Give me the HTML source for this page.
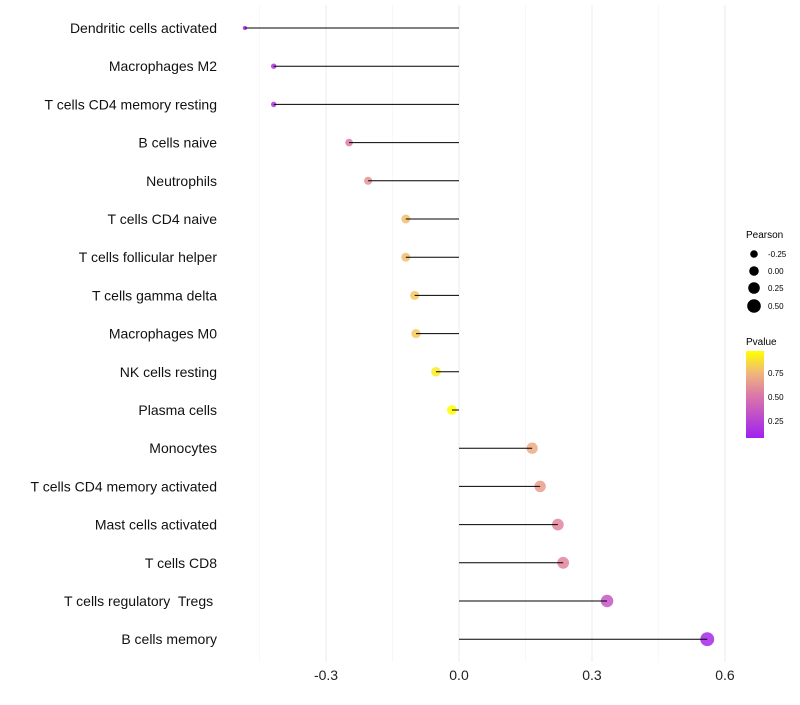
<!DOCTYPE html>
<html><head><meta charset="utf-8"><style>
body{margin:0;background:#fff;font-family:"Liberation Sans",sans-serif}
text{white-space:pre}
</style></head><body>
<svg id="chart" width="800" height="700" xmlns="http://www.w3.org/2000/svg">
<defs><linearGradient id="pg" x1="0" y1="1" x2="0" y2="0">
<stop offset="0" stop-color="#a020f0"/><stop offset="0.5" stop-color="#dc7aa6"/><stop offset="0.75" stop-color="#f0b87a"/><stop offset="1" stop-color="#ffff00"/></linearGradient></defs>
<g id="grid"></g><g id="points"></g><g id="stems"></g><g id="labels"></g>
<g font-size="9" fill="#000">
<text x="746" y="238" font-size="10">Pearson</text>
<circle cx="754" cy="254" r="3.8"/><text x="768" y="257" font-size="8">-0.25</text>
<circle cx="754" cy="271" r="4.8"/><text x="768" y="274" font-size="8">0.00</text>
<circle cx="754" cy="288" r="5.8"/><text x="768" y="291" font-size="8">0.25</text>
<circle cx="754" cy="306" r="6.8"/><text x="768" y="309" font-size="8">0.50</text>
<text x="746" y="345" font-size="10">Pvalue</text>
<rect x="746" y="351" width="18" height="87" fill="url(#pg)"/>
<text x="768" y="376" font-size="8">0.75</text>
<text x="768" y="400" font-size="8">0.50</text>
<text x="768" y="424" font-size="8">0.25</text>
</g>
</svg>
<script>
const categories=["Dendritic cells activated","Macrophages M2","T cells CD4 memory resting","B cells naive","Neutrophils","T cells CD4 naive","T cells follicular helper","T cells gamma delta","Macrophages M0","NK cells resting","Plasma cells","Monocytes","T cells CD4 memory activated","Mast cells activated","T cells CD8","T cells regulatory  Tregs ","B cells memory"];
const pearson=[-0.483,-0.418,-0.418,-0.248,-0.205,-0.12,-0.12,-0.10,-0.097,-0.052,-0.016,0.165,0.183,0.223,0.235,0.334,0.56];
const pvalue=[0.05,0.12,0.12,0.5,0.6,0.77,0.77,0.81,0.81,0.93,1.0,0.7,0.64,0.55,0.55,0.3,0.05];
const xticks=[-0.3,0,0.3,0.6];
const xminor=[-0.45,-0.15,0.15,0.45];
const NS="http://www.w3.org/2000/svg";
const x=v=>459+v*443.3;
const y=i=>28+i*38.2;
const rad=p=>Math.sqrt(Math.max(1,25+42*p));
function lerp(a,b,t){return a.map((v,k)=>Math.round(v+(b[k]-v)*t));}
const stops=[[0,[160,32,240]],[0.5,[220,122,166]],[0.75,[240,184,122]],[1,[255,255,0]]];
function col(p){for(let k=1;k<stops.length;k++){if(p<=stops[k][0]){const t=(p-stops[k-1][0])/(stops[k][0]-stops[k-1][0]);return 'rgb('+lerp(stops[k-1][1],stops[k][1],t).join(',')+')';}}return 'rgb(255,255,0)';}
function mk(tag,attrs,parent){const e=document.createElementNS(NS,tag);for(const k in attrs)e.setAttribute(k,attrs[k]);parent.appendChild(e);return e;}
const grid=document.getElementById('grid'),points=document.getElementById('points'),stems=document.getElementById('stems'),labels=document.getElementById('labels');
xminor.forEach(v=>{const l=mk('line',{x1:x(v),x2:x(v),y1:5,y2:662,stroke:'#f2f2f2','stroke-width':0.6},grid);

});
xticks.forEach(v=>{const l=mk('line',{x1:x(v),x2:x(v),y1:5,y2:662,stroke:'#ebebeb','stroke-width':1},grid);


const t=mk('text',{x:x(v),y:680,'text-anchor':'middle','font-size':14,fill:'#222'},labels);
t.textContent=v===0?'0.0':v.toFixed(1);

});
categories.forEach((c,i)=>{
const t=mk('text',{x:217,y:y(i)+5,'text-anchor':'end','font-size':14,fill:'#111'},labels);
t.textContent=c;


const l=mk('line',{x1:x(0),x2:x(pearson[i]),y1:y(i),y2:y(i),stroke:'#000','stroke-width':1},stems);


const d=mk('circle',{cx:x(pearson[i]),cy:y(i),r:rad(pearson[i]),fill:col(pvalue[i]),'fill-opacity':0.85},points);


});
</script>
</body></html>
